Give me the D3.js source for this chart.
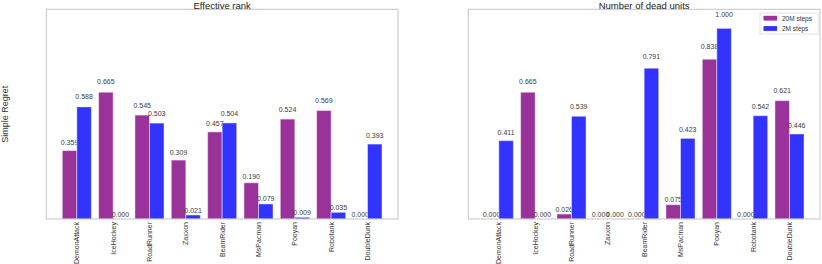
<!DOCTYPE html>
<html lang="en">
<head>
<meta charset="UTF-8">
<title>Bars</title>
<style>
  body { margin: 0; background: #fff; font-family: "Liberation Sans", Arial, sans-serif; }
  .tick-lab { font-size: 7px; fill: #333; }
  .val { font-size: 7px; fill: #3c3c3c; }
</style>
</head>
<body>
<script src="https://d3js.org/d3.v7.min.js"></script>
<div id="chart"></div>
<script>
var games = ["DemonAttack", "IceHockey", "RoadRunner", "Zaxxon", "BeamRider", "MsPacman", "Pooyan", "Robotank", "DoubleDunk"]
var seriesNames = ["20M steps", "2M steps"]
var colors = ["rgb(153,51,153)", "rgb(51,51,255)"]

var rank20M = [0.359, 0.665, 0.545, 0.309, 0.457, 0.190, 0.524, 0.569, 0.000]
var rank2M  = [0.588, 0.000, 0.503, 0.021, 0.504, 0.079, 0.009, 0.035, 0.393]
var dead20M = [0.000, 0.665, 0.026, 0.000, 0.000, 0.075, 0.838, 0.000, 0.621]
var dead2M  = [0.411, 0.000, 0.539, 0.000, 0.791, 0.423, 1.000, 0.542, 0.446]

var width = 822, height = 264
var svg = d3.select("#chart").append("svg")
  .attr("width", width).attr("height", height)

var pw = 351.7, ph = 209.7, topY = 9.3

function panel(left, title, a, b) {
  var g = svg.append("g").attr("transform", "translate(" + left + "," + topY + ")")
  var x = d3.scaleLinear().domain([-0.84, 8.84]).range([0, pw])
  var y = d3.scaleLinear().domain([0, 1.1]).range([ph, 0])
  var bw = x(0.4) - x(0)

  // bars: purple left of tick, blue right of tick
  ;[a, b].forEach(function(vals, s) {
    g.selectAll(null).data(vals).enter().append("rect")
      .attr("x", function(d, i) { return s == 0 ? x(i - 0.4) : x(i) })
      .attr("y", function(d) { return y(d) })
      .attr("width", bw)
      .attr("height", function(d) { return ph - y(d) })
      .attr("fill", colors[s])
      .attr("stroke", "rgba(255,255,255,0.45)")
      .attr("stroke-width", 1)

    g.selectAll(null).data(vals).enter().append("text")
      .attr("class", "val")
      .attr("x", function(d, i) { return (s == 0 ? x(i - 0.2) : x(i + 0.2)) })
      .attr("y", function(d) { return y(d * 1.05) - 2 })
      .attr("text-anchor", "middle")
      .text(function(d) { return d.toFixed(3) })
  })

  // frame
  g.append("rect").attr("width", pw).attr("height", ph)
    .attr("fill", "none").attr("stroke", "#c4c4c4").attr("stroke-width", 1)

  // x tick labels, rotated
  g.selectAll(null).data(games).enter().append("text")
    .attr("class", "tick-lab")
    .attr("transform", function(d, i) { return "translate(" + (x(i) + 2.5) + "," + (ph + 3) + ") rotate(-90)" })
    .attr("text-anchor", "end")
    .text(function(d) { return d })

  g.append("text")
    .attr("x", pw / 2).attr("y", -0.6)
    .attr("text-anchor", "middle")
    .style("font-size", "9.5px").style("fill", "#222")
    .text(title)
  return g
}

panel(46.3, "Effective rank", rank20M, rank2M)
var right = panel(468.3, "Number of dead units", dead20M, dead2M)

// legend
var lg = right.append("g").attr("transform", "translate(" + (pw - 60) + ",3.7)")
lg.append("rect").attr("width", 58).attr("height", 21)
  .attr("fill", "#fff").attr("stroke", "#e2e2e2")
seriesNames.forEach(function(n, i) {
  lg.append("rect").attr("x", 3.5).attr("y", 2.8 + i * 10.3).attr("width", 13.5).attr("height", 4.8)
    .attr("fill", colors[i])
  lg.append("text").attr("x", 22).attr("y", 7.6 + i * 10.3)
    .style("font-size", "6.5px").style("fill", "#333")
    .text(n)
})

svg.append("text")
  .attr("transform", "translate(8," + (topY + ph / 2) + ") rotate(-90)")
  .attr("text-anchor", "middle")
  .style("font-size", "9px").style("fill", "#333")
  .text("Simple Regret")
</script>
</body>
</html>
